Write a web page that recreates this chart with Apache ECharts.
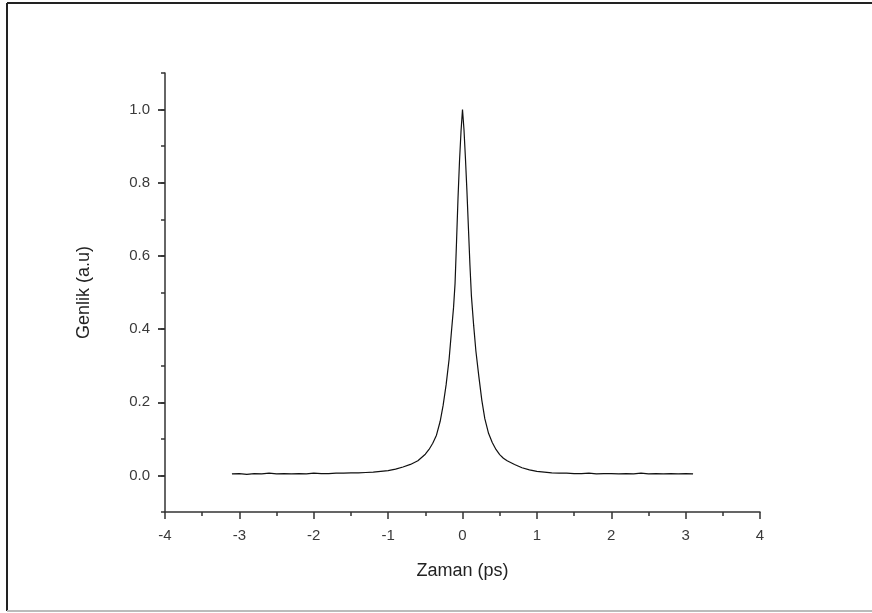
<!DOCTYPE html>
<html>
<head>
<meta charset="utf-8">
<script src="https://cdn.jsdelivr.net/npm/echarts@6/dist/echarts.min.js"></script>
<style>
  html, body { margin: 0; padding: 0; background: #fff; }
  #chart { width: 872px; height: 613px; }
</style>
</head>
<body>
<div id="chart"></div>
<script>
// zaman (ps) ve genlik degerleri
const zaman = [
  -3.10, -3.00, -2.90, -2.80, -2.70, -2.60, -2.50, -2.40, -2.30, -2.20,
  -2.10, -2.00, -1.90, -1.80, -1.70, -1.60, -1.50, -1.40, -1.30, -1.20,
  -1.10, -1.00, -0.90, -0.80, -0.70, -0.60, -0.50, -0.45, -0.40, -0.35,
  -0.30, -0.26, -0.22, -0.18, -0.15, -0.12, -0.10, -0.08, -0.06, -0.04,
  -0.02, 0.00, 0.02, 0.04, 0.06, 0.08, 0.10, 0.12, 0.15, 0.18,
  0.22, 0.26, 0.30, 0.35, 0.40, 0.45, 0.50, 0.55, 0.60, 0.70,
  0.80, 0.90, 1.00, 1.10, 1.20, 1.30, 1.40, 1.50, 1.60, 1.70,
  1.80, 1.90, 2.00, 2.10, 2.20, 2.30, 2.40, 2.50, 2.60, 2.70,
  2.80, 2.90, 3.00, 3.10
];
const genlik = [
  0.004, 0.005, 0.003, 0.005, 0.004, 0.006, 0.004, 0.005, 0.004, 0.005,
  0.004, 0.006, 0.005, 0.005, 0.006, 0.006, 0.007, 0.007, 0.008, 0.009,
  0.011, 0.013, 0.017, 0.023, 0.030, 0.040, 0.058, 0.071, 0.088, 0.110,
  0.148, 0.192, 0.248, 0.318, 0.390, 0.460, 0.525, 0.640, 0.760, 0.860,
  0.940, 1.000, 0.945, 0.865, 0.775, 0.675, 0.575, 0.490, 0.410, 0.340,
  0.270, 0.205, 0.155, 0.115, 0.090, 0.071, 0.057, 0.047, 0.040, 0.030,
  0.021, 0.015, 0.011, 0.009, 0.007, 0.006, 0.006, 0.005, 0.005, 0.006,
  0.004, 0.005, 0.005, 0.004, 0.005, 0.004, 0.006, 0.004, 0.005, 0.004,
  0.005, 0.004, 0.005, 0.004
];
// eksen araliklari
const yMin = -0.1, yMax = 1.1;        // tum eksen
const yEtiketMin = 0, yEtiketMax = 1; // etiketli kisim
const yEtiketAralik = 0.2;

const chart = echarts.init(document.getElementById('chart'));
const eksenRenk = '#333';
const yaziRenk = '#3a3a3a';
const font = 'Liberation Sans, Arial, sans-serif';

// ana grid: 165..760 yatay, 73..512 dikey
const gTop = 73, gBottom = 101, gHeight = 613 - gTop - gBottom;
const pxBirim = gHeight / (yMax - yMin);
// etiket gridi 0.0..1.0 kismini kapsar, ayni olcek
const g2Top = gTop + (yMax - yEtiketMax) * pxBirim;
const g2Bottom = gBottom + (yEtiketMin - yMin) * pxBirim;

const option = {
  animation: false,
  backgroundColor: '#fff',
  grid: [
    { left: 165, right: 112, top: gTop, bottom: gBottom, containLabel: false },
    { left: 165, right: 112, top: g2Top, bottom: g2Bottom, containLabel: false }
  ],
  xAxis: [
    {
      type: 'value',
      gridIndex: 0,
      min: -4, max: 4, interval: 1,
      name: 'Zaman (ps)',
      nameLocation: 'middle',
      nameGap: 50,
      nameTextStyle: { fontSize: 18, color: '#222', fontFamily: font },
      axisLine: { onZero: false, lineStyle: { color: eksenRenk, width: 1.5 } },
      axisTick: { length: 7, lineStyle: { color: eksenRenk, width: 1.5 } },
      minorTick: { show: true, splitNumber: 2, length: 4, lineStyle: { color: eksenRenk, width: 1.5 } },
      axisLabel: { fontSize: 15, color: yaziRenk, fontFamily: font, margin: 16 },
      splitLine: { show: false }
    },
    {
      type: 'value',
      gridIndex: 1,
      min: -4, max: 4,
      show: false
    }
  ],
  yAxis: [
    {
      // eksen cizgisi ve ara tikler
      type: 'value',
      gridIndex: 0,
      min: yMin, max: yMax, interval: 0.1,
      name: 'Genlik (a.u)',
      nameLocation: 'middle',
      nameGap: 72,
      nameRotate: 90,
      nameTextStyle: { fontSize: 18, color: '#222', fontFamily: font },
      axisLine: { show: true, onZero: false, lineStyle: { color: eksenRenk, width: 1.5 } },
      axisTick: { show: true, length: 4, lineStyle: { color: eksenRenk, width: 1.5 } },
      axisLabel: { show: false },
      splitLine: { show: false }
    },
    {
      // ana tikler ve etiketler
      type: 'value',
      gridIndex: 1,
      min: yEtiketMin, max: yEtiketMax, interval: yEtiketAralik,
      axisLine: { show: false, onZero: false },
      axisTick: { show: true, length: 7, lineStyle: { color: eksenRenk, width: 1.8 } },
      axisLabel: {
        fontSize: 15, color: yaziRenk, fontFamily: font, margin: 15,
        formatter: v => v.toFixed(1)
      },
      splitLine: { show: false }
    }
  ],
  series: [
    {
      type: 'line',
      xAxisIndex: 0,
      yAxisIndex: 0,
      data: zaman.map((x, i) => [x, genlik[i]]),
      showSymbol: false,
      lineStyle: { color: '#111', width: 1.2 }
    }
  ],
  graphic: [
    { type: 'line', shape: { x1: 7, y1: 3, x2: 872, y2: 3 }, style: { stroke: '#222', lineWidth: 2 } },
    { type: 'line', shape: { x1: 7, y1: 3, x2: 7, y2: 611 }, style: { stroke: '#222', lineWidth: 2 } },
    { type: 'line', shape: { x1: 7, y1: 611, x2: 872, y2: 611 }, style: { stroke: '#bbb', lineWidth: 2 } }
  ]
};
chart.setOption(option);
</script>
</body>
</html>
